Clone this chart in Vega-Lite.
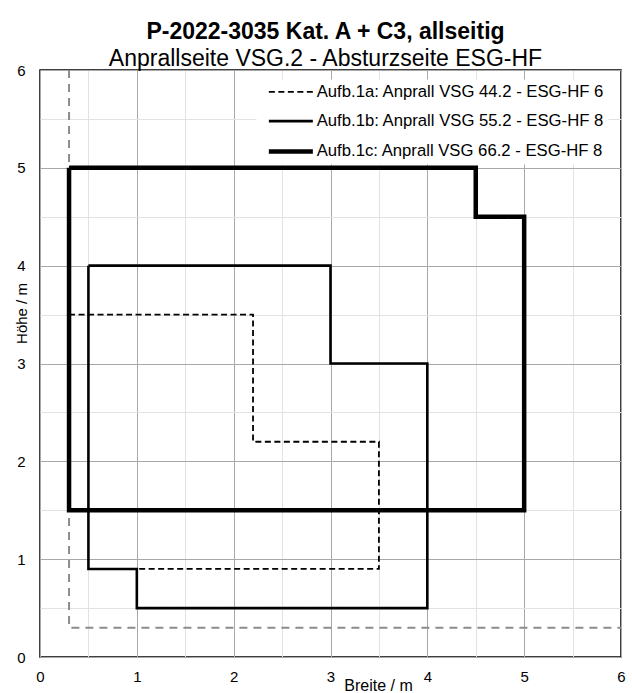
{
  "$schema": "https://vega.github.io/schema/vega-lite/v6.json",
  "width": 581,
  "height": 587,
  "autosize": "none",
  "padding": {"left": 40, "top": 70, "right": 11, "bottom": 36},
  "background": "white",
  "title": {
    "text": "P-2022-3035 Kat. A + C3, allseitig",
    "subtitle": "Anprallseite VSG.2 - Absturzseite ESG-HF",
    "font": "Liberation Sans",
    "fontSize": 23,
    "fontWeight": "bold",
    "color": "black",
    "subtitleFont": "Liberation Sans",
    "subtitleFontSize": 23,
    "subtitleColor": "black",
    "anchor": "middle",
    "dx": -5,
    "offset": -8,
    "subtitlePadding": 4
  },
  "config": {"view": {"stroke": "black", "strokeWidth": 1.5}},
  "datasets": {
    "guide": [
      {"i": 0, "x": 0.3, "y": 6},
      {"i": 1, "x": 0.3, "y": 0.3},
      {"i": 2, "x": 6, "y": 0.3}
    ],
    "shapes": [
      {"s": "Aufb.1a: Anprall VSG 44.2 - ESG-HF 6", "i": 0, "x": 0.3, "y": 3.5},
      {"s": "Aufb.1a: Anprall VSG 44.2 - ESG-HF 6", "i": 1, "x": 2.2, "y": 3.5},
      {"s": "Aufb.1a: Anprall VSG 44.2 - ESG-HF 6", "i": 2, "x": 2.2, "y": 2.2},
      {"s": "Aufb.1a: Anprall VSG 44.2 - ESG-HF 6", "i": 3, "x": 3.5, "y": 2.2},
      {"s": "Aufb.1a: Anprall VSG 44.2 - ESG-HF 6", "i": 4, "x": 3.5, "y": 0.9},
      {"s": "Aufb.1a: Anprall VSG 44.2 - ESG-HF 6", "i": 5, "x": 1, "y": 0.9},
      {"s": "Aufb.1b: Anprall VSG 55.2 - ESG-HF 8", "i": 0, "x": 0.5, "y": 4},
      {"s": "Aufb.1b: Anprall VSG 55.2 - ESG-HF 8", "i": 1, "x": 3, "y": 4},
      {"s": "Aufb.1b: Anprall VSG 55.2 - ESG-HF 8", "i": 2, "x": 3, "y": 3},
      {"s": "Aufb.1b: Anprall VSG 55.2 - ESG-HF 8", "i": 3, "x": 4, "y": 3},
      {"s": "Aufb.1b: Anprall VSG 55.2 - ESG-HF 8", "i": 4, "x": 4, "y": 0.5},
      {"s": "Aufb.1b: Anprall VSG 55.2 - ESG-HF 8", "i": 5, "x": 1, "y": 0.5},
      {"s": "Aufb.1b: Anprall VSG 55.2 - ESG-HF 8", "i": 6, "x": 1, "y": 0.9},
      {"s": "Aufb.1b: Anprall VSG 55.2 - ESG-HF 8", "i": 7, "x": 0.5, "y": 0.9},
      {"s": "Aufb.1b: Anprall VSG 55.2 - ESG-HF 8", "i": 8, "x": 0.5, "y": 4},
      {"s": "Aufb.1c: Anprall VSG 66.2 - ESG-HF 8", "i": 0, "x": 0.3, "y": 5},
      {"s": "Aufb.1c: Anprall VSG 66.2 - ESG-HF 8", "i": 1, "x": 4.5, "y": 5},
      {"s": "Aufb.1c: Anprall VSG 66.2 - ESG-HF 8", "i": 2, "x": 4.5, "y": 4.5},
      {"s": "Aufb.1c: Anprall VSG 66.2 - ESG-HF 8", "i": 3, "x": 5, "y": 4.5},
      {"s": "Aufb.1c: Anprall VSG 66.2 - ESG-HF 8", "i": 4, "x": 5, "y": 1.5},
      {"s": "Aufb.1c: Anprall VSG 66.2 - ESG-HF 8", "i": 5, "x": 0.3, "y": 1.5},
      {"s": "Aufb.1c: Anprall VSG 66.2 - ESG-HF 8", "i": 6, "x": 0.3, "y": 5}
    ]
  },
  "encoding": {
    "x": {
      "field": "x",
      "type": "quantitative",
      "scale": {"domain": [0, 6], "nice": false, "zero": false},
      "axis": {
        "values": [0, 0.5, 1, 1.5, 2, 2.5, 3, 3.5, 4, 4.5, 5, 5.5, 6],
        "grid": true,
        "gridColor": {"condition": {"test": "datum.value % 1 !== 0", "value": "#e2e2e2"}, "value": "#a8a8a8"},
        "gridWidth": 1,
        "labelExpr": "datum.value % 1 === 0 ? format(datum.value, 'd') : ''",
        "labelFlush": false,
        "labelOverlap": false,
        "ticks": false,
        "domain": false,
        "labelPadding": 12,
        "labelFont": "Liberation Sans",
        "labelFontSize": 15,
        "labelColor": "black",
        "title": "Breite / m",
        "titleFont": "Liberation Sans",
        "titleFontSize": 16,
        "titleFontWeight": "normal",
        "titleColor": "black",
        "titleX": 338,
        "titleY": 20,
        "titleBaseline": "top"
      }
    },
    "y": {
      "field": "y",
      "type": "quantitative",
      "scale": {"domain": [0, 6], "nice": false, "zero": false},
      "axis": {
        "values": [0, 0.5, 1, 1.5, 2, 2.5, 3, 3.5, 4, 4.5, 5, 5.5, 6],
        "grid": true,
        "gridColor": {"condition": {"test": "datum.value % 1 !== 0", "value": "#e2e2e2"}, "value": "#a8a8a8"},
        "gridWidth": 1,
        "labelExpr": "datum.value % 1 === 0 ? format(datum.value, 'd') : ''",
        "labelFlush": false,
        "labelOverlap": false,
        "ticks": false,
        "domain": false,
        "labelPadding": 15,
        "labelFont": "Liberation Sans",
        "labelFontSize": 15,
        "labelColor": "black",
        "title": "Höhe / m",
        "titleFont": "Liberation Sans",
        "titleFontSize": 15,
        "titleFontWeight": "normal",
        "titleColor": "black",
        "titleX": -19,
        "titleY": 243,
        "titleBaseline": "middle"
      }
    },
    "order": {"field": "i", "type": "quantitative"}
  },
  "layer": [
    {
      "data": {"name": "guide"},
      "mark": {"type": "line", "color": "#8c8c8c", "strokeWidth": 2, "strokeDash": [8, 6]}
    },
    {
      "data": {"name": "shapes"},
      "mark": {"type": "line", "color": "black"},
      "encoding": {
        "strokeDash": {
          "field": "s",
          "type": "nominal",
          "scale": {
            "domain": ["Aufb.1a: Anprall VSG 44.2 - ESG-HF 6", "Aufb.1b: Anprall VSG 55.2 - ESG-HF 8", "Aufb.1c: Anprall VSG 66.2 - ESG-HF 8"],
            "range": [[6, 3.5], [1, 0], [1, 0]]
          },
          "legend": {
            "orient": "none",
            "legendX": 216.5,
            "legendY": 9.5,
            "title": null,
            "fillColor": "white",
            "padding": 4,
            "symbolType": "M0,0H8",
            "symbolSize": 121,
            "symbolStrokeColor": "black",
            "labelFont": "Liberation Sans",
            "labelFontSize": 16.7,
            "labelColor": "black",
            "labelLimit": 400,
            "rowPadding": 11.3,
            "labelOffset": 39.5
          }
        },
        "strokeWidth": {
          "field": "s",
          "type": "nominal",
          "scale": {
            "type": "ordinal",
            "domain": ["Aufb.1a: Anprall VSG 44.2 - ESG-HF 6", "Aufb.1b: Anprall VSG 55.2 - ESG-HF 8", "Aufb.1c: Anprall VSG 66.2 - ESG-HF 8"],
            "range": [1.8, 2.6, 4.5]
          },
          "legend": {
            "orient": "none",
            "legendX": 216.5,
            "legendY": 9.5,
            "title": null,
            "fillColor": "white",
            "padding": 4,
            "symbolType": "M0,0H8",
            "symbolSize": 121,
            "symbolStrokeColor": "black",
            "labelFont": "Liberation Sans",
            "labelFontSize": 16.7,
            "labelColor": "black",
            "labelLimit": 400,
            "rowPadding": 11.3,
            "labelOffset": 39.5
          }
        }
      }
    }
  ]
}
